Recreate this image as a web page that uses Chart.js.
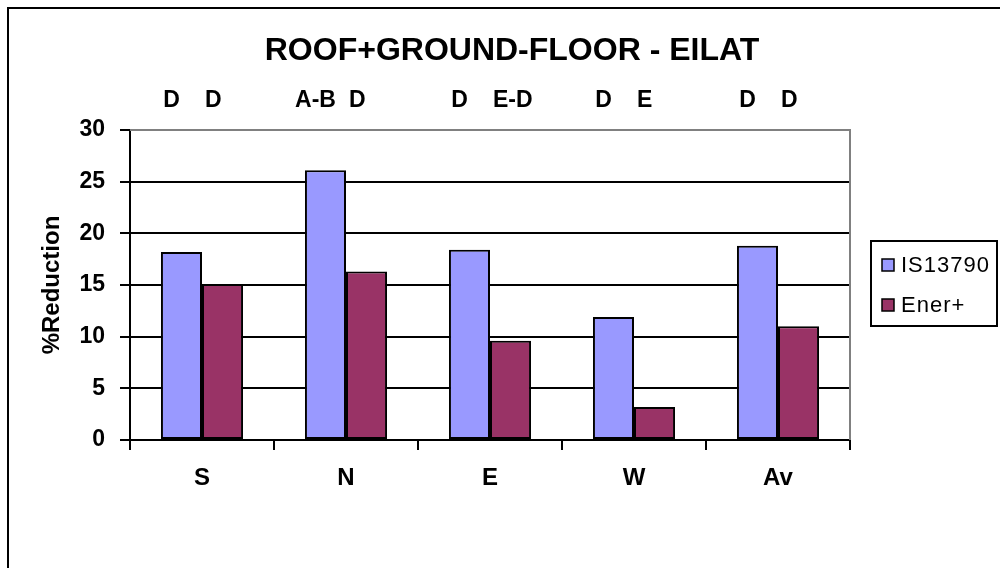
<!DOCTYPE html>
<html>
<head>
<meta charset="utf-8">
<script src="https://cdn.jsdelivr.net/npm/chart.js@4"></script>
<style>
  html, body { margin: 0; padding: 0; background: #fff; }
  #wrap { position: relative; width: 1000px; height: 568px; }
  #frame { position: absolute; left: 7px; top: 7px; width: 1000px; height: 600px;
           border-left: 2px solid #000; border-top: 2px solid #000; }
  canvas { position: absolute; left: 0; top: 0; }
</style>
</head>
<body>
<div id="wrap">
  <div id="frame"></div>
  <canvas id="myChart" width="1000" height="568"></canvas>
</div>
<script>
const categories = ['S', 'N', 'E', 'W', 'Av'];
const is13790 = [18.2, 26.1, 18.4, 11.9, 18.8];
const enerPlus = [15.1, 16.3, 9.6, 3.2, 11.0];
const gradeIS = ['D', 'A-B', 'D', 'D', 'D'];
const gradeEner = ['D', 'D', 'E-D', 'E', 'D'];
const yTicks = [0, 5, 10, 15, 20, 25, 30];

const FONT = '"Liberation Sans", Arial, sans-serif';

const extras = {
    id: 'extras',
    afterDatasetsDraw(chart) {
        const ctx = chart.ctx;
        const area = chart.chartArea;
        ctx.save();
        // grey plot border top/right
        ctx.strokeStyle = '#808080';
        ctx.lineWidth = 2;
        ctx.beginPath();
        ctx.moveTo(area.left, area.top);
        ctx.lineTo(area.right, area.top);
        ctx.lineTo(area.right, area.bottom);
        ctx.stroke();

        // title
        ctx.fillStyle = '#000';
        ctx.textAlign = 'center';
        ctx.textBaseline = 'alphabetic';
        ctx.font = 'bold 32px ' + FONT;
        ctx.fillText('ROOF+GROUND-FLOOR - EILAT', 512, 60);

        // grade letters above the bars
        ctx.font = 'bold 23px ' + FONT;
        chart.getDatasetMeta(0).data.forEach((bar, j) => {
            ctx.textAlign = 'center';
            ctx.fillText(gradeIS[j], bar.x - 10, 107);
        });
        chart.getDatasetMeta(1).data.forEach((bar, j) => {
            ctx.textAlign = 'left';
            ctx.fillText(gradeEner[j], bar.x - bar.width / 2 + 3, 107);
        });

        // legend box
        const lx = 871, ly = 241, lw = 126, lh = 85;
        ctx.strokeStyle = '#000';
        ctx.lineWidth = 2;
        ctx.strokeRect(lx, ly, lw, lh);
        ctx.font = '22px ' + FONT;
        ctx.letterSpacing = '1px';
        ctx.textAlign = 'left';
        ctx.textBaseline = 'middle';
        chart.data.datasets.forEach((ds, i) => {
            const cy = ly + 24 + i * 40;
            ctx.fillStyle = ds.backgroundColor;
            ctx.fillRect(lx + 11, cy - 6, 12, 12);
            ctx.lineWidth = 1.5;
            ctx.strokeRect(lx + 11, cy - 6, 12, 12);
            ctx.fillStyle = '#000';
            ctx.fillText(ds.label, lx + 30, cy + 1);
        });
        ctx.restore();
    }
};

const ctx = document.getElementById('myChart').getContext('2d');
new Chart(ctx, {
    type: 'bar',
    data: {
        labels: categories,
        datasets: [{
            label: 'IS13790',
            data: is13790,
            backgroundColor: '#9999FF',
            borderColor: '#000',
            borderWidth: 2,
            borderSkipped: false
        }, {
            label: 'Ener+',
            data: enerPlus,
            backgroundColor: '#993366',
            borderColor: '#000',
            borderWidth: 2,
            borderSkipped: false
        }]
    },
    plugins: [extras],
    options: {
        responsive: false,
        animation: false,
        layout: { padding: { left: 0, top: 130, right: 150, bottom: 68 } },
        plugins: {
            legend: { display: false },
            tooltip: { enabled: false }
        },
        datasets: { bar: { categoryPercentage: 0.57, barPercentage: 1 } },
        scales: {
            x: {
                grid: { offset: true, drawOnChartArea: false, color: '#000', lineWidth: 2, tickLength: 10 },
                border: { color: '#000', width: 2 },
                ticks: { color: '#000', padding: 14, font: { family: FONT, size: 24, weight: 'bold' } },
                afterFit(scale) { scale.height = 60; }
            },
            y: {
                min: 0,
                max: 30,
                afterBuildTicks(scale) { scale.ticks = yTicks.map(v => ({ value: v })); },
                grid: {
                    color: c => (c.tick && c.tick.value === 30) ? '#808080' : '#000',
                    tickColor: '#000',
                    lineWidth: 2,
                    tickLength: 10
                },
                border: { color: '#000', width: 2 },
                ticks: { color: '#000', padding: 15, font: { family: FONT, size: 23, weight: 'bold' } },
                title: {
                    display: true,
                    text: '%Reduction',
                    color: '#000',
                    padding: { top: 38, bottom: 0 },
                    font: { family: FONT, size: 24, weight: 'bold' }
                },
                afterFit(scale) { scale.width = 130; }
            }
        }
    }
});
</script>
</body>
</html>
